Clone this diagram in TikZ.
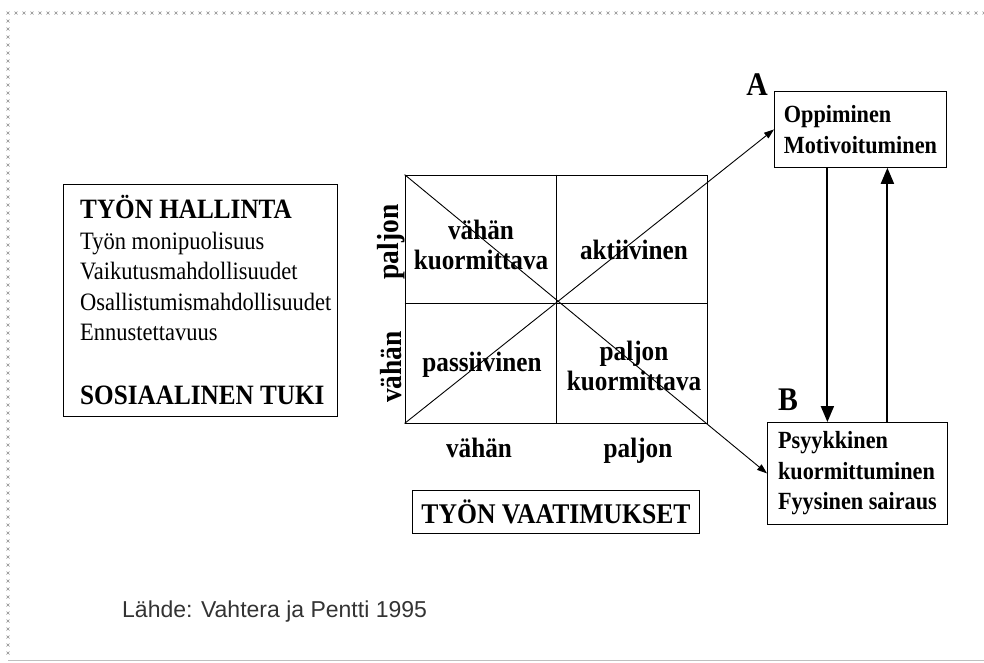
\documentclass[tikz,border=0pt]{standalone}
\usepackage{fontspec}
\setmainfont{Liberation Serif}[FakeStretch=0.9]
\newfontfamily\sourcefont{Liberation Sans}
\usetikzlibrary{arrows.meta,positioning}

\begin{document}
\begin{tikzpicture}[x=1pt,y=-1pt,
  box/.style={draw, line width=0.8pt},
  quad/.style={font=\bfseries\fontsize{28}{30}\selectfont, align=center, inner sep=0pt},
  result/.style={box, font=\bfseries\fontsize{24.7}{30.5}\selectfont, align=left, inner xsep=9pt},
  biglab/.style={font=\bfseries\fontsize{33}{33}\selectfont, inner sep=0pt},
  axislab/.style={font=\bfseries\fontsize{30.5}{30}\selectfont, inner sep=0pt, rotate=90},
  thinarrow/.style={-{Triangle[length=10pt,width=7pt]}, line width=0.9pt},
  thickarrow/.style={-{Triangle[length=16pt,width=13pt]}, line width=2pt},
  xmark/.style={draw=black!45, line width=0.5pt}]

\useasboundingbox (0,0) rectangle (984,662);

% frame of x marks
\foreach \i in {0,...,122}
  \draw[xmark] ({8+8*\i-1.5},11.5) -- ++(3,3) ({8+8*\i-1.5},14.5) -- ++(3,-3);
\foreach \j in {1,...,80}
  \draw[xmark] (6.5,{13+8*\j-1.5}) -- ++(3,3) (6.5,{13+8*\j+1.5}) -- ++(3,-3);
\draw[black!25, line width=0.8pt] (8,660) -- (984,660);

% left box
\node[box, minimum width=274pt, minimum height=232pt, inner sep=0pt] (hallinta) at (200,300) {};
\node[anchor=north west, align=left, inner sep=0pt,
  font=\fontsize{25}{30.5}\selectfont] (hallintatext) at (80,195)
  {{\bfseries\fontsize{28}{30.5}\selectfont TYÖN HALLINTA}\\
   Työn monipuolisuus\\
   Vaikutusmahdollisuudet\\
   Osallistumismahdollisuudet\\
   Ennustettavuus\\[33pt]
   {\bfseries\fontsize{28}{30.5}\selectfont SOSIAALINEN TUKI}};

% demand-control grid
\node[box, minimum width=302pt, minimum height=248pt, inner sep=0pt] (grid) at (556,299) {};
\draw[line width=0.8pt] (grid.north) -- (grid.south);
\draw[line width=0.8pt] ([yshift=-4pt]grid.west) -- ([yshift=-4pt]grid.east);

\node[quad] (lowstrain) at (481,245) {vähän\\kuormittava};
\node[quad] (active) at (634,250) {aktiivinen};
\node[quad] (passive) at (482,365) {passiivinen};
\node[quad] (highstrain) at (634,366) {paljon\\kuormittava};

\node[axislab] (ctrlhigh) at (391,242) {paljon};
\node[axislab] (ctrllow) at (391,367) {vähän};
\node[quad, anchor=base] (demlow) at (479,457) {vähän};
\node[quad, anchor=base] (demhigh) at (638,457) {paljon};

\node[box, minimum width=287pt, minimum height=43pt, inner sep=0pt,
  font=\bfseries\fontsize{28.5}{28}\selectfont] (vaatimukset) at (556,512) {TYÖN VAATIMUKSET};

% outcome boxes
\node[result, anchor=north west, minimum width=172pt, minimum height=76pt] (boxA) at (774,91)
  {Oppiminen\\Motivoituminen};
\node[result, anchor=north west, minimum width=180pt, minimum height=102pt] (boxB) at (767,422)
  {Psyykkinen\\kuormittuminen\\Fyysinen sairaus};
\node[biglab, anchor=base east] (labA) at ([xshift=-6pt,yshift=-4pt]boxA.north west) {A};
\node[biglab, anchor=base west] (labB) at ([xshift=11pt,yshift=12pt]boxB.north west) {B};

% connectors
\draw[thinarrow] (grid.south west) -- (boxA.west);
\draw[thinarrow] (grid.north west) -- (boxB.west);
\draw[thickarrow] ([xshift=-33pt]boxA.south) -- ([xshift=-33pt]boxA.south |- boxB.north);
\draw[thickarrow] ([xshift=30pt]boxB.north) -- ([xshift=30pt]boxB.north |- boxA.south);

\node[anchor=west, inner sep=0pt, text=black!80,
  font=\sourcefont\fontsize{23}{23}\selectfont] (lahde) at (122,612) {Lähde: Vahtera ja Pentti 1995};
\end{tikzpicture}
\end{document}
